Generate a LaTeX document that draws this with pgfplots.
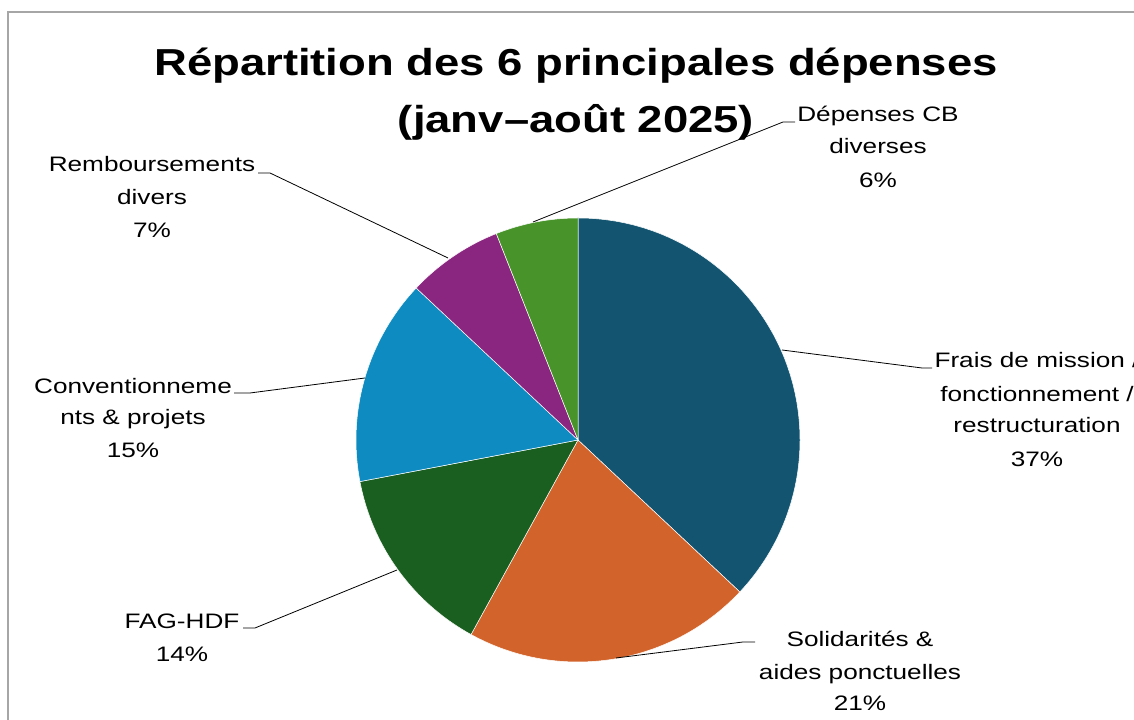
\documentclass[border=0pt]{standalone}
\usepackage{pgfplots}
\usepackage{pgfplotstable}
\pgfplotsset{compat=1.18}
\usepackage{fontspec}
\setmainfont{Liberation Sans}[FakeStretch=1.25]
\newfontfamily\titlefont{Liberation Sans}[FakeStretch=1.21]
\definecolor{cA}{HTML}{135571}
\definecolor{cB}{HTML}{D2642B}
\definecolor{cC}{HTML}{1A5E20}
\definecolor{cD}{HTML}{0E8BC0}
\definecolor{cE}{HTML}{8B2680}
\definecolor{cF}{HTML}{48942A}
\definecolor{frame}{HTML}{A6A6A6}
\pgfplotstableread{
value color
37 cA
21 cB
14 cC
15 cD
7 cE
6 cF
}\piedata
\newcommand\lab{\fontsize{21}{25}\selectfont}
\begin{document}
\begin{tikzpicture}
\begin{axis}[name=ax, at={(0,0)}, anchor=south west, scale only axis,
  width=1134bp, height=720bp, xmin=0, xmax=1134, ymin=0, ymax=720,
  hide axis, clip=false]
\def\cum{0}
\pgfplotsforeachungrouped \i in {0,...,5}{%
  \pgfplotstablegetelem{\i}{value}\of\piedata \let\sliceval\pgfplotsretval
  \pgfplotstablegetelem{\i}{color}\of\piedata \let\slicecol\pgfplotsretval
  \pgfmathsetmacro\angA{90-3.6*\cum}%
  \pgfmathsetmacro\angB{90-3.6*(\cum+\sliceval)}%
  \edef\tmp{\noexpand\fill[\slicecol, draw=white, line width=0.5bp] (axis cs:578,280) -- ++(\angA:222bp) arc[start angle=\angA, end angle=\angB, radius=222bp] -- cycle;}%
  \tmp
  \pgfmathsetmacro\cum{\cum+\sliceval}%
}
% frame
\draw[frame, line width=1.2bp] (axis cs:8,-20) -- (axis cs:8,708) -- (axis cs:1160,708);
% title
\node[anchor=base, font=\titlefont\bfseries\fontsize{37.7}{44}\selectfont] at (axis cs:576,644) {Répartition des 6 principales dépenses};
\node[anchor=base, font=\titlefont\bfseries\fontsize{37.7}{44}\selectfont] at (axis cs:576,587) {(janv–août 2025)};
% leader lines
\begin{scope}[line width=0.8bp, black]
\draw (axis cs:782,370) -- (axis cs:922,352) -- (axis cs:932,352);
\draw (axis cs:616,62) -- (axis cs:743,78) -- (axis cs:755,78);
\draw (axis cs:397,150) -- (axis cs:255,92) -- (axis cs:243,92);
\draw (axis cs:365,342) -- (axis cs:250,327) -- (axis cs:234,327);
\draw (axis cs:448,462) -- (axis cs:270,547) -- (axis cs:258,547);
\draw (axis cs:533,498) -- (axis cs:783,598) -- (axis cs:795,598);
\end{scope}
% labels
\begin{scope}[every node/.style={anchor=base, inner sep=0pt, font=\lab}]
\node at (axis cs:1037,352) {Frais de mission /};
\node at (axis cs:1037,318) {fonctionnement /};
\node at (axis cs:1037,287) {restructuration};
\node at (axis cs:1037,253) {37\%};
\node at (axis cs:860,73) {Solidarités \&};
\node at (axis cs:860,40) {aides ponctuelles};
\node at (axis cs:860,9) {21\%};
\node at (axis cs:182,91) {FAG-HDF};
\node at (axis cs:182,58) {14\%};
\node at (axis cs:133,326) {Conventionneme};
\node at (axis cs:133,295) {nts \& projets};
\node at (axis cs:133,262) {15\%};
\node at (axis cs:152,548) {Remboursements};
\node at (axis cs:152,515) {divers};
\node at (axis cs:152,482) {7\%};
\node at (axis cs:878,598) {Dépenses CB};
\node at (axis cs:878,566) {diverses};
\node at (axis cs:878,532) {6\%};
\end{scope}
\end{axis}
\pgfresetboundingbox
\path[use as bounding box] (ax.south west) rectangle (ax.north east);
\end{tikzpicture}
\end{document}
